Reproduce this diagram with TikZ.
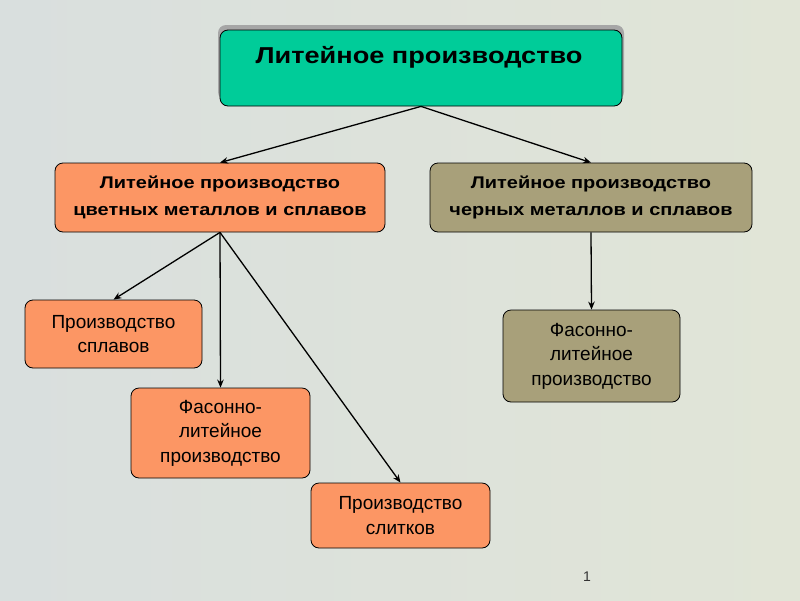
\documentclass[tikz,border=0pt]{standalone}
\usepackage{fontspec}
\setmainfont{Liberation Sans}
\newfontfamily\widebf[FakeStretch=1.18]{Liberation Sans Bold}
\usetikzlibrary{arrows.meta}
\definecolor{bgL}{RGB}{217,223,222}
\definecolor{bgR}{RGB}{225,229,215}
\definecolor{tealbox}{RGB}{0,204,153}
\definecolor{orangebox}{RGB}{252,150,100}
\definecolor{olivebox}{RGB}{168,160,122}
\begin{document}
\begin{tikzpicture}[x=1pt,y=-1pt,
  box/.style={draw=black, line width=0.8pt, rounded corners=8pt, rectangle, inner sep=0pt, align=center},
  boldtxt/.style={font=\fontsize{16.9}{27}\selectfont\widebf},
  regtxt/.style={font=\fontsize{19}{24.5}\selectfont},
  arr/.style={line width=1.3pt, -{Stealth[length=8pt,width=6.5pt]}}
]
\fill[left color=bgL,right color=bgR] (0,0) rectangle (800,600);
\useasboundingbox (0,0) rectangle (800,600);
% shadow of the top box
\fill[gray!70, rounded corners=8pt] (218,25) rectangle (624,100);
\node[box, fill=tealbox, minimum width=402pt, minimum height=76pt] (top) at (421,68) {};
\node[font=\fontsize{23}{26}\selectfont\widebf] (toptxt) at (419,57) {Литейное производство};
\node[box, fill=orangebox, minimum width=330pt, minimum height=69pt, boldtxt] (l2) at (220,197.5) {Литейное производство\\цветных металлов и сплавов};
\node[box, fill=olivebox, minimum width=322pt, minimum height=69pt, boldtxt] (r2) at (591,197.5) {Литейное производство\\черных металлов и сплавов};
\node[box, fill=orangebox, minimum width=177pt, minimum height=68pt, regtxt] (a) at (113.5,334) {Производство\\сплавов};
\node[box, fill=orangebox, minimum width=179pt, minimum height=90pt, regtxt] (b) at (220.5,433) {Фасонно-\\литейное\\производство};
\node[box, fill=orangebox, minimum width=179pt, minimum height=65pt, regtxt] (c) at (400.5,515.5) {Производство\\слитков};
\node[box, fill=olivebox, minimum width=177pt, minimum height=92pt, regtxt] (d) at (591.5,356) {Фасонно-\\литейное\\производство};
\draw[arr] (top.south) -- (l2.north);
\draw[arr] (top.south) -- (r2.north);
\draw[arr] (l2.south) -- (a.north);
\draw[arr] (l2.south) -- (b.north);
\draw[arr] (l2.south) -- (c.north);
\draw[arr] (r2.south) -- (d.north);
\node[font=\fontsize{14}{16}\selectfont, text=black!80] (num) at (587,577) {1};
\end{tikzpicture}
\end{document}
